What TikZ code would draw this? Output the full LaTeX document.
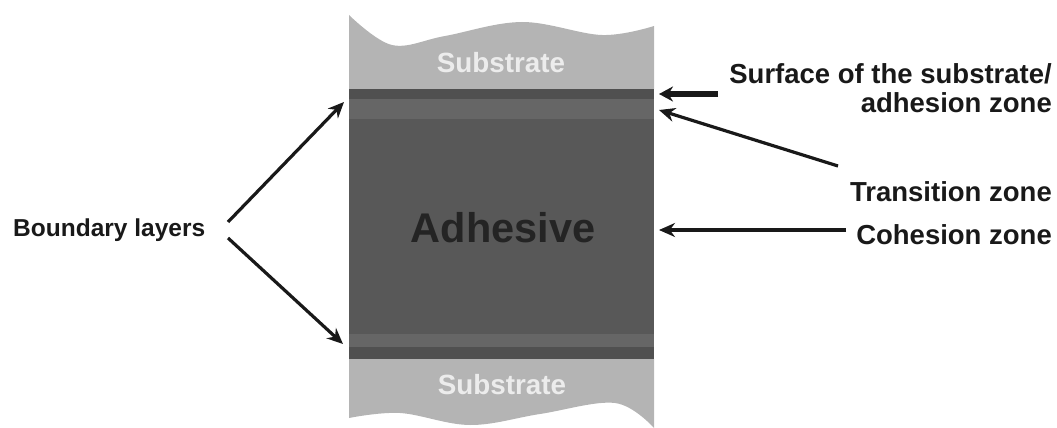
\documentclass[tikz,border=0pt]{standalone}
\usepackage{fontspec}
\setmainfont{Liberation Sans}
\usetikzlibrary{arrows.meta}
\definecolor{subst}{RGB}{180,180,180}
\definecolor{adh}{RGB}{88,88,88}
\definecolor{trans}{RGB}{102,102,102}
\definecolor{bnd}{RGB}{80,80,80}
\definecolor{subtxt}{RGB}{236,236,236}
\definecolor{adhtxt}{RGB}{36,36,36}
\definecolor{ink}{RGB}{25,25,25}
\begin{document}
\begin{tikzpicture}[x=1pt,y=-1pt,
  lbl/.style={font=\fontsize{27.5}{29.5}\selectfont\bfseries, text=ink, inner sep=0pt},
  subtext/.style={font=\fontsize{27.8}{30}\selectfont\bfseries, text=subtxt, inner sep=0pt},
  arr/.style={-{Stealth[length=16pt,width=14pt]}, line width=3.2pt, draw=ink},
  thickarr/.style={-{Stealth[length=14pt,width=15pt]}, line width=5.5pt, draw=ink},
]
\useasboundingbox (0,0) rectangle (1057,428);
% top substrate
\fill[subst] plot[smooth, tension=0.6] coordinates {(349,15) (392,45) (445,36) (522,22) (602,35) (654,26)} -- (654,89) -- (349,89) -- cycle;
% adhesive and its zones
\fill[adh] (349,89) rectangle (654,359);
\fill[bnd] (349,89) rectangle (654,99);
\fill[trans] (349,99) rectangle (654,119);
\fill[trans] (349,334) rectangle (654,347);
\fill[bnd] (349,347) rectangle (654,359);
% bottom substrate
\fill[subst] plot[smooth, tension=0.6] coordinates {(349,418) (400,413) (470,425) (540,414) (615,403) (654,428)} -- (654,359) -- (349,359) -- cycle;
% texts
\node[subtext] (s1) at (501,63) {Substrate};
\node[subtext] (s2) at (502,385) {Substrate};
\node[font=\fontsize{41.5}{44}\selectfont\bfseries, text=adhtxt, inner sep=0pt] (ad) at (503,228) {Adhesive};
\node[lbl, align=right, anchor=east] (surf) at (1052,88) {Surface of the substrate/\\adhesion zone};
\node[lbl, anchor=east] (tz) at (1052,192) {Transition zone};
\node[lbl, anchor=east] (cz) at (1052,235) {Cohesion zone};
\node[lbl, font=\fontsize{24.5}{28}\selectfont\bfseries, anchor=west] (bl) at (13,230) {Boundary layers};
% arrow ends
\coordinate (b1) at (228,222); \coordinate (t1) at (344,102);
\coordinate (b2) at (228,238); \coordinate (t2) at (343,344);
\coordinate (sa) at (718,94); \coordinate (st) at (659,94);
\coordinate (ta) at (838,166); \coordinate (tt) at (659,110);
\coordinate (ca) at (846,230); \coordinate (ct) at (659,230);
\draw[arr] (b1) -- (t1);
\draw[arr] (b2) -- (t2);
\draw[thickarr] (sa) -- (st);
\draw[arr] (ta) -- (tt);
\draw[arr] (ca) -- (ct);
\end{tikzpicture}
\end{document}
